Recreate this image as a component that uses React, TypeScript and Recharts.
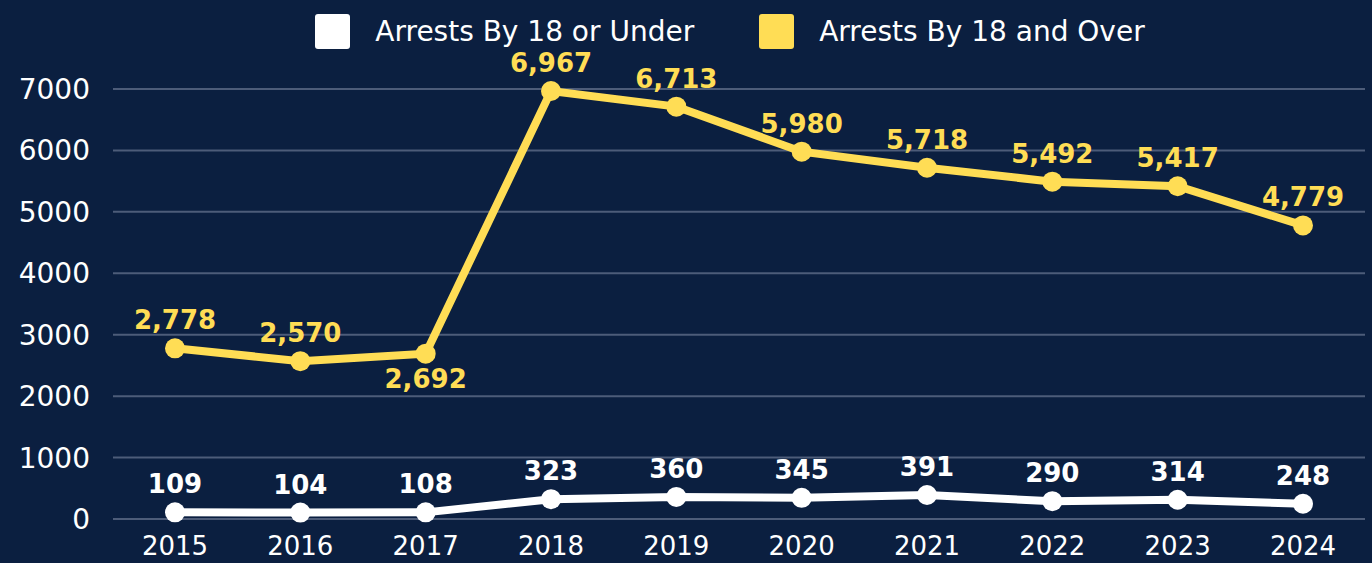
import React from 'react';
import { LineChart, Line, XAxis, YAxis, CartesianGrid, Legend, LabelList } from 'recharts';

const years = ['2015', '2016', '2017', '2018', '2019', '2020', '2021', '2022', '2023', '2024'];
const under18 = [109, 104, 108, 323, 360, 345, 391, 290, 314, 248];
const over18 = [2778, 2570, 2692, 6967, 6713, 5980, 5718, 5492, 5417, 4779];
const yTicks = [0, 1000, 2000, 3000, 4000, 5000, 6000, 7000];
const legendOrder = ['under', 'over'];

const BG = '#0b1f40';
const YELLOW = '#ffdd55';
const WHITE = '#ffffff';
const GRID = '#4d5c79';
const FONT = '"DejaVu Sans", sans-serif';

const data = years.map((y, i) => ({ year: y, under: under18[i], over: over18[i] }));

const fmt = (v: number) => v.toLocaleString('en-US');

const makeLabel = (color: string, belowIdx: number[]) => (props: any) => {
  const { x, y, value, index } = props;
  const below = belowIdx.includes(index);
  return (
    <text
      x={x}
      y={below ? y + 34 : y - 19}
      textAnchor="middle"
      fill={color}
      fontFamily={FONT}
      fontWeight="bold"
      fontSize={26}
    >
      {fmt(value)}
    </text>
  );
};

const LegendContent = (props: any) => {
  const payload = [...(props.payload || [])].sort(
    (a: any, b: any) => legendOrder.indexOf(a.dataKey) - legendOrder.indexOf(b.dataKey)
  );
  return (
    <div
      style={{
        display: 'flex',
        justifyContent: 'center',
        alignItems: 'center',
        paddingLeft: 88,
        height: 62,
        fontFamily: FONT,
      }}
    >
      {payload.map((p: any, i: number) => (
        <div key={i} style={{ display: 'flex', alignItems: 'center', marginLeft: i === 0 ? 0 : 65 }}>
          <div style={{ width: 35, height: 35, background: p.color, borderRadius: 3 }} />
          <span style={{ color: WHITE, fontSize: 28, marginLeft: 25 }}>{p.value}</span>
        </div>
      ))}
    </div>
  );
};

export default function App() {
  return (
    <div style={{ position: 'absolute', left: 0, top: 0, width: 1372, height: 563, background: BG }}>
      <LineChart width={1372} height={563} data={data} margin={{ top: 89, right: 7, bottom: 0, left: 0 }}>
        <CartesianGrid horizontal vertical={false} stroke={GRID} strokeWidth={2} />
        <XAxis
          dataKey="year"
          axisLine={false}
          tickLine={false}
          height={44}
          padding={{ left: 62, right: 62 }}
          tickMargin={12}
          tick={{ fill: WHITE, fontSize: 26, fontFamily: FONT }}
        />
        <YAxis
          domain={[0, 7000]}
          ticks={yTicks}
          axisLine={false}
          tickLine={false}
          width={113}
          tickMargin={17}
          tick={{ fill: WHITE, fontSize: 28, fontFamily: FONT }}
        />
        <Legend
          verticalAlign="middle"
          align="center"
          layout="horizontal"
          wrapperStyle={{ top: 0, left: 0, width: 1372 }}
          content={<LegendContent />}
        />
        <Line
          dataKey="under"
          name="Arrests By 18 or Under"
          stroke={WHITE}
          strokeWidth={8}
          dot={{ r: 10, fill: WHITE, stroke: WHITE, strokeWidth: 0 }}
          activeDot={false}
          isAnimationActive={false}
        >
          <LabelList dataKey="under" content={makeLabel(WHITE, [])} />
        </Line>
        <Line
          dataKey="over"
          name="Arrests By 18 and Over"
          stroke={YELLOW}
          strokeWidth={8}
          dot={{ r: 10, fill: YELLOW, stroke: YELLOW, strokeWidth: 0 }}
          activeDot={false}
          isAnimationActive={false}
        >
          <LabelList dataKey="over" content={makeLabel(YELLOW, [2])} />
        </Line>
      </LineChart>
    </div>
  );
}
